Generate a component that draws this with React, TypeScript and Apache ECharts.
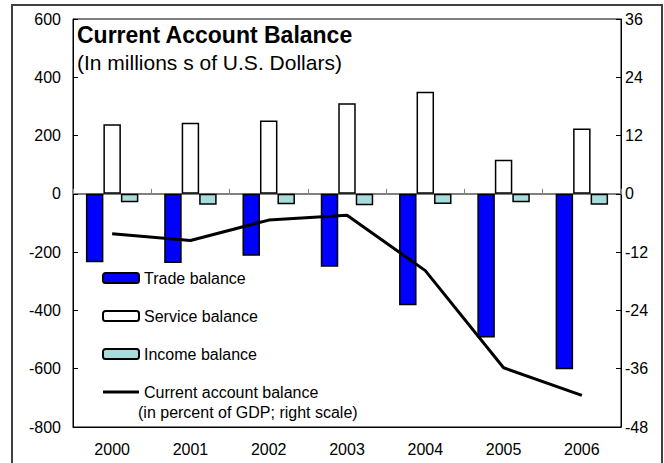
import React, { useEffect, useRef } from "react";
import * as echarts from "echarts";

const years = ["2000", "2001", "2002", "2003", "2004", "2005", "2006"];
const tradeBalance = [-235, -237, -212, -250, -382, -493, -602];
const serviceBalance = [239, 244, 252, 311, 350, 117, 224];
const incomeBalance = [-29, -37, -36, -39, -35, -29, -37];
const currentAccountPctGDP = [-8.2, -9.6, -5.4, -4.4, -15.8, -35.8, -41.5];

const FONT = "'Liberation Sans', Arial, sans-serif";
const LINE_ICON =
  "path://M0 0 L0.01 0 L0.01 0.01 Z M0 3.5 L36 3.5 L36 6.5 L0 6.5 Z M36 10 L35.99 10 L35.99 9.99 Z";

export default function App() {
  const ref = useRef<HTMLDivElement>(null);
  useEffect(() => {
    if (!ref.current) return;
    const chart = echarts.init(ref.current, undefined, { renderer: "svg" });
    chart.setOption({
      animation: false,
      backgroundColor: "#ffffff",
      textStyle: { fontFamily: FONT, color: "#000" },
      title: {
        text: "Current Account Balance",
        subtext: "(In millions s of U.S. Dollars)",
        left: 77,
        top: 23,
        itemGap: 6,
        padding: 0,
        textStyle: { fontFamily: FONT, fontSize: 23, fontWeight: "bold", color: "#000" },
        subtextStyle: { fontFamily: FONT, fontSize: 21, color: "#000" },
      },
      legend: {
        orient: "vertical",
        left: 97,
        top: 265,
        itemWidth: 36,
        itemHeight: 10,
        itemGap: 22,
        selectedMode: false,
        textStyle: { fontFamily: FONT, fontSize: 16, color: "#000" },
        data: [
          { name: "Trade balance" },
          { name: "Service balance" },
          { name: "Income balance" },
          {
            name: "Current account balance",
            icon: LINE_ICON,
            itemStyle: { color: "#000", borderWidth: 0 },
          },
        ],
      },
      graphic: [
        {
          type: "rect",
          shape: { x: 12, y: 5, width: 650, height: 480 },
          style: { fill: "none", stroke: "#404040", lineWidth: 2 },
          silent: true,
        },
        {
          type: "text",
          left: 138,
          top: 404,
          style: {
            text: "(in percent of GDP; right scale)",
            font: `16px ${FONT}`,
            fill: "#000",
          },
        },
      ],
      grid: {
        left: 73,
        right: 43,
        top: 19,
        bottom: 36,
        show: true,
        borderColor: "#000",
        borderWidth: 1,
        backgroundColor: "transparent",
      },
      xAxis: [
        {
          type: "category",
          data: years,
          position: "bottom",
          axisLine: { onZero: false, show: true, lineStyle: { color: "#000", width: 1 } },
          axisTick: { show: false },
          axisLabel: { color: "#000", fontSize: 16, fontFamily: FONT, margin: 14 },
        },
        {
          type: "category",
          data: years,
          position: "top",
          axisLine: { onZero: true, show: true, lineStyle: { color: "#808080", width: 2 } },
          axisTick: { show: true, inside: false, length: 5, lineStyle: { color: "#808080", width: 1 } },
          axisLabel: { show: false },
        },
      ],
      yAxis: [
        {
          type: "value",
          min: -800,
          max: 600,
          interval: 200,
          position: "left",
          axisLine: { show: true, lineStyle: { color: "#000", width: 1 } },
          axisTick: { show: true, inside: true, length: 5, lineStyle: { color: "#000" } },
          axisLabel: { color: "#000", fontSize: 16, fontFamily: FONT, margin: 12 },
          splitLine: { show: false },
        },
        {
          type: "value",
          min: -48,
          max: 36,
          interval: 12,
          position: "right",
          axisLine: { show: true, lineStyle: { color: "#000", width: 1 } },
          axisTick: { show: true, inside: true, length: 5, lineStyle: { color: "#000" } },
          axisLabel: { color: "#000", fontSize: 16, fontFamily: FONT, margin: 4 },
          splitLine: { show: false },
        },
      ],
      series: [
        {
          name: "Trade balance",
          type: "bar",
          data: tradeBalance,
          barGap: "0%",
          barCategoryGap: "33%",
          itemStyle: { color: "#0000ff", borderColor: "#000", borderWidth: 1.5 },
          z: 3,
        },
        {
          name: "Service balance",
          type: "bar",
          data: serviceBalance,
          barGap: "0%",
          barCategoryGap: "33%",
          itemStyle: { color: "#ffffff", borderColor: "#000", borderWidth: 1.5 },
          z: 3,
        },
        {
          name: "Income balance",
          type: "bar",
          data: incomeBalance,
          barGap: "0%",
          barCategoryGap: "33%",
          itemStyle: { color: "#a6dcdc", borderColor: "#000", borderWidth: 1.5 },
          z: 3,
        },
        {
          name: "Current account balance",
          type: "line",
          yAxisIndex: 1,
          data: currentAccountPctGDP,
          symbol: "none",
          lineStyle: { color: "#000", width: 3 },
          itemStyle: { color: "#000" },
          z: 5,
        },
      ],
    });
    return () => chart.dispose();
  }, []);
  return (
    <div
      ref={ref}
      style={{ position: "fixed", left: 0, top: 0, width: 664, height: 463 }}
    />
  );
}
